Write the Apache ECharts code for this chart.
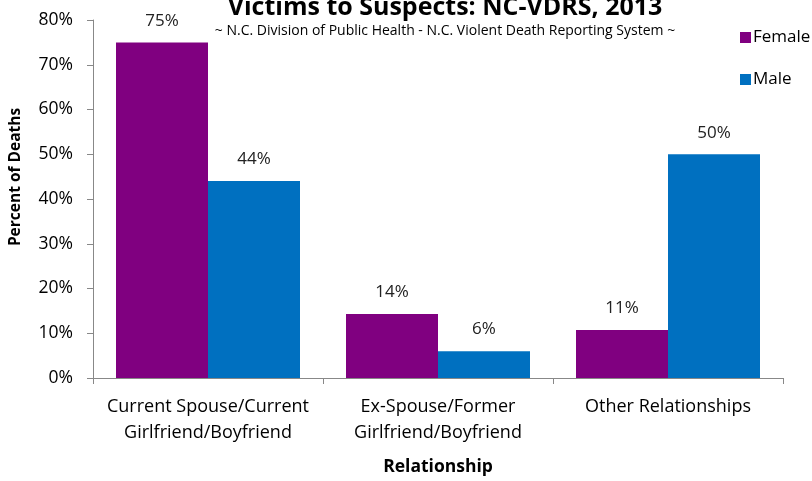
<!DOCTYPE html>
<html>
<head>
<meta charset="utf-8">
<script src="https://cdn.jsdelivr.net/npm/echarts@6/dist/echarts.min.js"></script>
<style>
  html, body { margin: 0; padding: 0; background: #fff; }
  #chart { width: 812px; height: 481px; }
</style>
</head>
<body>
<div id="chart"></div>
<script>
const categories = ['Current Spouse/Current\nGirlfriend/Boyfriend', 'Ex-Spouse/Former\nGirlfriend/Boyfriend', 'Other Relationships']
const female = [75, 14.3, 10.7]
const male = [44, 6, 50]
const yTicks = [0, 10, 20, 30, 40, 50, 60, 70, 80]

const font = '"Open Sans", Lato, sans-serif'
const chart = echarts.init(document.getElementById('chart'))

function labelStyle() {
  return {
    show: true,
    position: 'top',
    distance: 13,
    color: '#222',
    fontSize: 17,
    fontFamily: font,
    formatter: p => Math.round(p.value) + '%'
  }
}

chart.setOption({
  animation: false,
  backgroundColor: '#fff',
  title: {
    text: 'Victims to Suspects: NC-VDRS, 2013',
    subtext: '~ N.C. Division of Public Health - N.C. Violent Death Reporting System ~',
    left: 440,
    textAlign: 'center',
    top: -10,
    itemGap: 4,
    textStyle: { fontSize: 25, fontWeight: 'bold', color: '#000', fontFamily: font },
    subtextStyle: { fontSize: 14, color: '#000', fontFamily: font }
  },
  legend: {
    orient: 'vertical',
    left: 735,
    top: 24,
    itemWidth: 11,
    itemHeight: 11,
    itemGap: 25,
    icon: 'rect',
    textStyle: { fontSize: 17, color: '#000', fontFamily: font, padding: [0, 0, 0, -3] },
    data: ['Female', 'Male']
  },
  grid: { left: 92, right: 29, top: 20, bottom: 102, containLabel: false },
  xAxis: {
    type: 'category',
    data: categories,
    name: 'Relationship',
    nameLocation: 'middle',
    nameGap: 80,
    nameTextStyle: { fontSize: 17.5, fontWeight: 'bold', color: '#000', fontFamily: font },
    axisLine: { lineStyle: { color: '#888' } },
    axisTick: { show: true, length: 6, interval: 0, lineStyle: { color: '#888' } },
    axisLabel: { interval: 0, hideOverlap: false, fontSize: 18, color: '#000', fontFamily: font, margin: 16, lineHeight: 26 }
  },
  yAxis: {
    type: 'value',
    min: yTicks[0],
    max: yTicks[yTicks.length - 1],
    interval: 10,
    name: 'Percent of Deaths',
    nameLocation: 'middle',
    nameGap: 69,
    nameRotate: 90,
    nameTextStyle: { fontSize: 15.5, fontWeight: 'bold', color: '#000', fontFamily: font, padding: [0, 0, 0, 44] },
    axisLine: { show: true, lineStyle: { color: '#888' } },
    axisTick: { show: true, length: 6, lineStyle: { color: '#888' } },
    splitLine: { show: false },
    axisLabel: { fontSize: 17.5, color: '#000', fontFamily: font, margin: 20, formatter: v => v + '%' }
  },
  series: [
    {
      name: 'Female',
      type: 'bar',
      data: female,
      barWidth: 92,
      barGap: '0%',
      itemStyle: { color: '#800080' },
      label: labelStyle()
    },
    {
      name: 'Male',
      type: 'bar',
      data: male,
      barWidth: 92,
      barGap: '0%',
      itemStyle: { color: '#0070C0' },
      label: labelStyle()
    }
  ]
})
</script>
</body>
</html>
